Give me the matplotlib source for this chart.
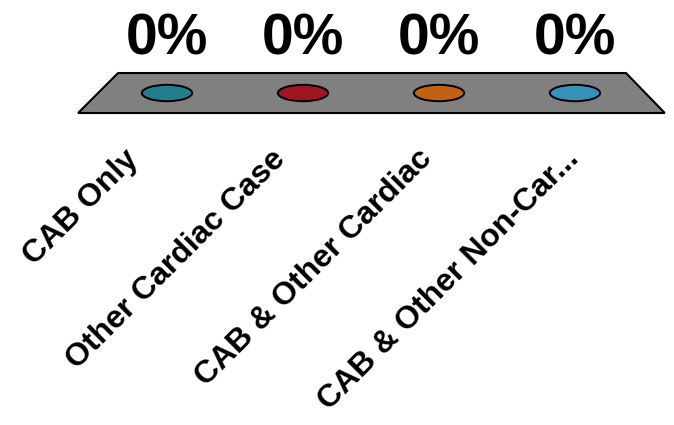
import matplotlib.pyplot as plt
from matplotlib.patches import Ellipse, Polygon

plt.rcParams['font.family'] = ['Liberation Sans', 'DejaVu Sans']

categories = ['CAB Only', 'Other Cardiac Case', 'CAB & Other Cardiac',
              'CAB & Other Non-Car...']
shares = [0.0, 0.0, 0.0, 0.0]
colors = ['#237D8C', '#A0161F', '#C06212', '#3791B8']

fig = plt.figure(figsize=(6.74, 4.25), dpi=100)
ax = fig.add_axes([0.1469, 0.7341, 0.8071, 0.0941])
ax.set_xlim(-0.5, len(categories) - 0.5)
ax.set_ylim(-1, 1)
ax.axis('off')

# perspective floor of the 3-D column chart
x0, x1 = ax.get_xlim()
front = (x0 - 0.154, x1 + 0.16)
floor = Polygon([(x0 + 0.14, 1), (x1 - 0.125, 1), (front[1], -1), (front[0], -1)],
                closed=True, facecolor='#808080', edgecolor='black', lw=1.5,
                clip_on=False, zorder=1)
ax.add_patch(floor)

# category slots along the (wider) front edge of the floor
step = (front[1] - front[0]) / len(categories)

for i, (name, v, c) in enumerate(zip(categories, shares, colors)):
    # zero-height columns only show their top face
    ax.add_patch(Ellipse((i, v), 0.37, 0.82 + v, facecolor=c, edgecolor='black',
                         lw=1.4, clip_on=False, zorder=2))
    ax.annotate(f'{v:.0%}', xy=(i, v), xytext=(0, 28), textcoords='offset points',
                ha='center', va='baseline', fontsize=41, fontweight='bold',
                annotation_clip=False)
    ax.annotate(name, xy=(front[0] + (i + 0.5) * step, -1), xytext=(-20.2, -22.3),
                textcoords='offset points', ha='right', va='top', rotation=45,
                rotation_mode='anchor', fontsize=23, fontweight='bold',
                annotation_clip=False)

fig.savefig('out.png', dpi=100)
